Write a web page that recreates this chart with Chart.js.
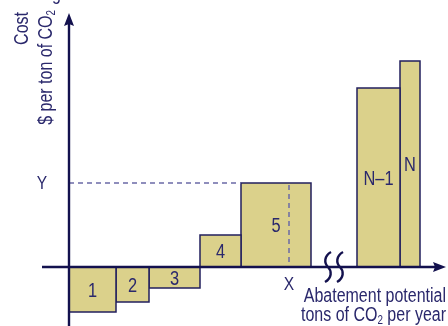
<!DOCTYPE html>
<html>
<head>
<meta charset="utf-8">
<script src="https://cdn.jsdelivr.net/npm/chart.js@4.4.1/dist/chart.umd.min.js"></script>
<style>
  body { margin: 0; background: #fff; }
  #wrap { width: 448px; height: 326px; position: relative; }
</style>
</head>
<body>
<div id="wrap"><canvas id="myChart"></canvas></div>
<script>
// marginal abatement cost curve
let labels = ["1", "2", "3", "4", "5", "N–1", "N"];
let potential = [47, 33, 51, 41, 70, 43, 20];      // tons of CO2 per year (bar widths)
let cost = [-45, -35, -21, 32, 84, 179, 206];       // $ per ton of CO2 (bar heights)
let breakAfter = 4;       // axis is broken after measure 5
let breakGap = 46;        // hidden potential in the break
let markX = 220;          // "X" marker on the potential axis
let markY = cost[4];      // "Y" marker on the cost axis

let FONT = "'Liberation Sans', Arial, sans-serif";
let NARROW = 0.82;        // squeeze to look like a condensed face
let NAVY = "#13114e";
let TEXT = "#2a286c";
let FILL = "#dbd18b";
let EDGE = "#221f5e";

// cumulative starts of every bar
let starts = [];
let acc = 0;
potential.forEach((w, i) => {
  starts.push(acc);
  acc += w;
  if (i == breakAfter) acc += breakGap;
});

let datasets = potential.map((w, i) => {
  let x0 = starts[i], x1 = starts[i] + w;
  return {
    label: labels[i],
    data: [
      { x: x0, y: 0 },
      { x: x0, y: cost[i] },
      { x: x1, y: cost[i] },
      { x: x1, y: 0 }
    ],
    showLine: true,
    fill: "origin",
    backgroundColor: FILL,
    borderColor: EDGE,
    borderWidth: 1.5,
    pointRadius: 0,
    tension: 0,
    clip: false
  };
});

// draws text pieces (some as subscripts) at (x, y), optionally rotated
let drawText = (ctx, parts, x, y, align, size, rot) => {
  if (typeof parts == "string") parts = [[parts, false]];
  ctx.save();
  ctx.translate(x, y);
  if (rot) ctx.rotate(rot);
  ctx.scale(NARROW, 1);
  ctx.textBaseline = "alphabetic";
  ctx.textAlign = "left";
  let big = `${size}px ${FONT}`, small = `${Math.round(size * 0.62)}px ${FONT}`;
  let total = 0;
  parts.forEach(p => {
    ctx.font = p[1] ? small : big;
    total += ctx.measureText(p[0]).width;
  });
  let cx = align == "right" ? -total : align == "center" ? -total / 2 : 0;
  parts.forEach(p => {
    ctx.font = p[1] ? small : big;
    ctx.fillText(p[0], cx, p[1] ? 3 : 0);
    cx += ctx.measureText(p[0]).width;
  });
  ctx.restore();
};

let macPlugin = {
  id: "mac",
  afterDatasetsDraw(chart) {
    let ctx = chart.ctx;
    let xs = chart.scales.x, ys = chart.scales.y;
    let px = v => xs.getPixelForValue(v);
    let py = v => ys.getPixelForValue(v);
    ctx.save();

    // dashed guides
    ctx.strokeStyle = "#6b69a6";
    ctx.lineWidth = 1.5;
    ctx.setLineDash([5, 4]);
    ctx.beginPath();
    ctx.moveTo(px(0), py(markY));
    ctx.lineTo(px(starts[4]), py(markY));
    ctx.moveTo(px(markX), py(markY) + 2);
    ctx.lineTo(px(markX), py(0));
    ctx.stroke();
    ctx.setLineDash([]);

    // axes
    ctx.strokeStyle = NAVY;
    ctx.fillStyle = NAVY;
    ctx.lineWidth = 2.4;
    let ox = px(0), oy = py(0);
    let topY = py(ys.max), rightX = px(xs.max);
    ctx.beginPath();
    ctx.moveTo(ox, py(ys.min));
    ctx.lineTo(ox, topY + 8);
    ctx.moveTo(px(-27), oy);
    ctx.lineTo(rightX - 8, oy);
    ctx.stroke();
    ctx.beginPath();
    ctx.moveTo(ox, topY);
    ctx.lineTo(ox - 5, topY + 13);
    ctx.lineTo(ox, topY + 11);
    ctx.lineTo(ox + 5, topY + 13);
    ctx.closePath();
    ctx.fill();
    ctx.beginPath();
    ctx.moveTo(rightX, oy);
    ctx.lineTo(rightX - 13, oy - 5);
    ctx.lineTo(rightX - 11, oy);
    ctx.lineTo(rightX - 13, oy + 5);
    ctx.closePath();
    ctx.fill();

    // axis break marks
    ctx.lineWidth = 2.4;
    let bx = starts[breakAfter] + potential[breakAfter];
    [bx + 17, bx + 29].forEach(v => {
      let c = px(v);
      ctx.beginPath();
      ctx.moveTo(c + 3, oy - 15);
      ctx.bezierCurveTo(c - 4, oy - 11, c - 4, oy - 4, c, oy);
      ctx.bezierCurveTo(c + 4, oy + 4, c + 4, oy + 11, c - 3, oy + 15);
      ctx.stroke();
    });

    // bar numbers
    ctx.fillStyle = TEXT;
    labels.forEach((l, i) => {
      let cx = px(starts[i] + potential[i] / 2);
      let cy = (py(0) + py(cost[i])) / 2;
      drawText(ctx, l, cx, cy + 7, "center", 20);
    });

    // markers
    drawText(ctx, "Y", px(-27), py(markY) + 6, "center", 19);
    drawText(ctx, "X", px(markX), oy + 23, "center", 19);

    // x axis title
    drawText(ctx, "Abatement potential", 446, 302, "right", 19.5);
    drawText(ctx, [["tons of CO", false], ["2", true], [" per year", false]], 446, 321, "right", 19.5);

    // y axis title, rotated
    drawText(ctx, "Cost", 28, 12, "right", 19.5, -Math.PI / 2);
    drawText(ctx, [["$ per ton of CO", false], ["2", true]], 52, 10, "right", 19.5, -Math.PI / 2);

    // title, mostly cut off at the top edge
    ctx.font = `19.5px ${FONT}`;
    let w = ctx.measureText("Mar").width * NARROW;
    drawText(ctx, "Marginal Abatement Cost Curve", 52 - w, 0, "left", 19.5);

    ctx.restore();
  }
};

let chartCtx = document.getElementById("myChart").getContext("2d");
let myChart = new Chart(chartCtx, {
  type: "scatter",
  data: { datasets: datasets },
  options: {
    responsive: true,
    maintainAspectRatio: false,
    animation: false,
    layout: { padding: { left: 69, right: 2, top: 13, bottom: 0 } },
    plugins: { legend: { display: false }, tooltip: { enabled: false } },
    scales: {
      x: { type: "linear", min: 0, max: 377, display: false },
      y: { type: "linear", min: -59, max: 254, display: false }
    }
  },
  plugins: [macPlugin]
});
</script>
</body>
</html>
